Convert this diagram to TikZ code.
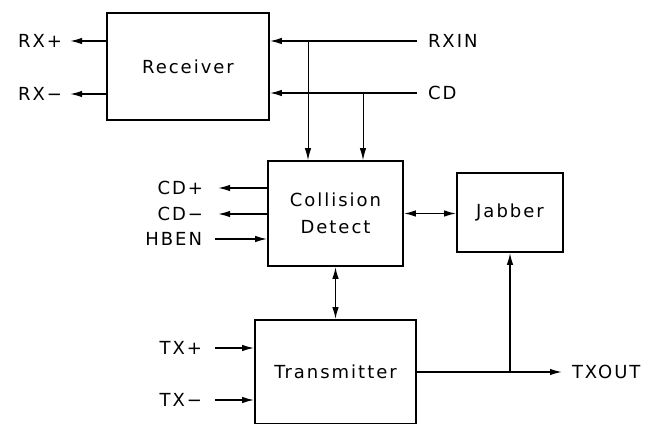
\documentclass[tikz,border=0pt]{standalone}
\usepackage{fontspec}
\setmainfont{DejaVu Sans}[LetterSpace=11]
\usetikzlibrary{arrows.meta,positioning}
\tikzset{
  pin/.tip={Latex[length=12pt,width=6.5pt]},
  blk/.style={draw,line width=1.7pt,inner sep=0pt,align=center},
  lbl/.style={inner sep=0pt,outer sep=#1},lbl/.default=8pt,
  wire/.style={line width=1.5pt},
  tap/.style={line width=1pt}}
\begin{document}
\begin{tikzpicture}[x=1pt,y=-1pt,font=\fontsize{18}{27}\selectfont]
  \useasboundingbox (0,0) rectangle (648,425);
  \clip (0,0) rectangle (648,423);
  % blocks
  \node[blk,minimum width=162pt,minimum height=107pt] (rcv) at (188,66.5) {Receiver};
  \node[blk,minimum width=135pt,minimum height=105pt] (col) at (335.5,213.5) {Collision\\Detect};
  \node[blk,minimum width=106pt,minimum height=79pt] (jab) at (510,212.5) {Jabber};
  \node[blk,minimum width=161pt,minimum height=104pt] (tx) at (335.5,372) {Transmitter};
  % pins
  \node[lbl=8pt,anchor=east] (rxp) at (70,41) {RX+};
  \node[lbl=8pt,anchor=east] (rxm) at (70,94) {RX−};
  \node[lbl=11pt,anchor=west] (rxin) at (417,41) {RXIN};
  \node[lbl=11pt,anchor=west] (cd) at (417,93) {CD};
  \node[lbl=15pt,anchor=east] (cdp) at (218,188) {CD+};
  \node[lbl=15pt,anchor=east] (cdm) at (218,214) {CD−};
  \node[lbl=13pt,anchor=east] (hben) at (215,239) {HBEN};
  \node[lbl=13pt,anchor=east] (txp) at (215,348) {TX+};
  \node[lbl=13pt,anchor=east] (txm) at (215,400) {TX−};
  \node[lbl=10pt,anchor=west] (txout) at (562,372) {TXOUT};
  % receiver
  \draw[wire,-pin] (rcv.west |- rxp) -- (rxp);
  \draw[wire,-pin] (rcv.west |- rxm) -- (rxm);
  \draw[wire,-pin] (rxin) -- (rcv.east |- rxin);
  \draw[wire,-pin] (cd) -- (rcv.east |- cd);
  \coordinate (sp1) at (308,41);
  \coordinate (sp2) at (363,93);
  \draw[tap,-pin] (sp1) -- (sp1 |- col.north);
  \draw[tap,-pin] (sp2) -- (sp2 |- col.north);
  % collision detect
  \draw[wire,-pin] (col.west |- cdp) -- (cdp);
  \draw[wire,-pin] (col.west |- cdm) -- (cdm);
  \draw[wire,-pin] (hben) -- (col.west |- hben);
  \draw[wire,pin-pin] (col.east) -- (col.east -| jab.west);
  \draw[wire,pin-pin] (col.south) -- (tx.north);
  % transmitter
  \draw[wire,-pin] (txp) -- (tx.west |- txp);
  \draw[wire,-pin] (txm) -- (tx.west |- txm);
  \draw[wire,-pin] (tx.east) -- (txout);
  \coordinate (sp3) at (jab.south |- tx.east);
  \draw[wire,-pin] (sp3) -- (jab.south);
\end{tikzpicture}
\end{document}
